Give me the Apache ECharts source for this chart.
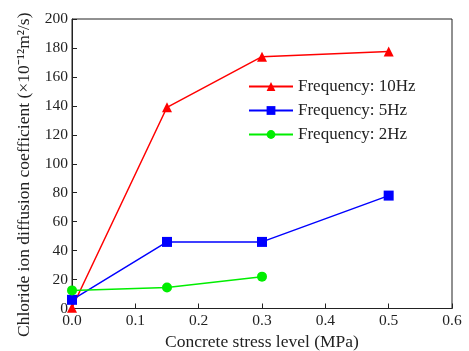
<!DOCTYPE html>
<html>
<head>
<meta charset="utf-8">
<script src="https://cdn.jsdelivr.net/npm/echarts@6/dist/echarts.min.js"></script>
<style>
  html, body { margin: 0; padding: 0; background: #fff; }
  #chart { width: 469px; height: 351px; }
</style>
</head>
<body>
<div id="chart"></div>
<script>
const stress10 = [0, 0.15, 0.3, 0.5];
const freq10Hz = [0.5, 139, 174, 177.5];
const stress5 = [0, 0.15, 0.3, 0.5];
const freq5Hz = [6, 46, 46, 78];
const stress2 = [0, 0.15, 0.3];
const freq2Hz = [12.5, 14.5, 22];

const pairs = (xs, ys) => xs.map((x, i) => [x, ys[i]]);
const serif = 'Liberation Serif';

const chart = echarts.init(document.getElementById('chart'));
chart.setOption({
  animation: false,
  textStyle: { fontFamily: serif, color: '#222' },
  grid: {
    left: 72, right: 17, top: 19, bottom: 42.5,
    outerBoundsMode: 'none', containLabel: false,
    show: true, borderColor: '#222', borderWidth: 1
  },
  legend: {
    orient: 'vertical',
    left: 243, top: 73,
    itemWidth: 44, itemHeight: 11, itemGap: 7,
    textStyle: { fontFamily: serif, fontSize: 17, color: '#222' },
    data: ['Frequency: 10Hz', 'Frequency: 5Hz', 'Frequency: 2Hz']
  },
  xAxis: {
    type: 'value', min: 0, max: 0.6, interval: 0.1,
    name: 'Concrete stress level (MPa)',
    nameLocation: 'middle', nameGap: 21,
    nameTextStyle: { fontFamily: serif, fontSize: 17.5, color: '#222' },
    axisLine: { lineStyle: { color: '#222' } },
    axisTick: { inside: true, length: 5, lineStyle: { color: '#222' } },
    axisLabel: { fontFamily: serif, fontSize: 15.5, color: '#222', margin: 4,
      formatter: v => v.toFixed(1) },
    splitLine: { show: false }
  },
  yAxis: {
    type: 'value', min: 0, max: 200, interval: 20,
    name: 'Chloride ion diffusion coefficient (×10⁻¹²m²/s)',
    nameLocation: 'middle', nameGap: 27,
    nameTextStyle: { fontFamily: serif, fontSize: 17.5, color: '#222',
      padding: [0, 22, 0, 0] },
    axisLine: { lineStyle: { color: '#222' } },
    axisTick: { inside: true, length: 5, lineStyle: { color: '#222' } },
    axisLabel: { fontFamily: serif, fontSize: 15.5, color: '#222', margin: 4 },
    splitLine: { show: false }
  },
  series: [
    {
      name: 'Frequency: 10Hz', type: 'line', data: pairs(stress10, freq10Hz),
      symbol: 'triangle', symbolSize: 10, clip: false,
      lineStyle: { color: '#ff0000', width: 1.5 },
      itemStyle: { color: '#ff0000' }
    },
    {
      name: 'Frequency: 5Hz', type: 'line', data: pairs(stress5, freq5Hz),
      symbol: 'rect', symbolSize: 10, clip: false,
      lineStyle: { color: '#0000ff', width: 1.5 },
      itemStyle: { color: '#0000ff' }
    },
    {
      name: 'Frequency: 2Hz', type: 'line', data: pairs(stress2, freq2Hz),
      symbol: 'circle', symbolSize: 10, clip: false,
      lineStyle: { color: '#00ee00', width: 1.5 },
      itemStyle: { color: '#00ee00' }
    }
  ]
});
</script>
</body>
</html>
